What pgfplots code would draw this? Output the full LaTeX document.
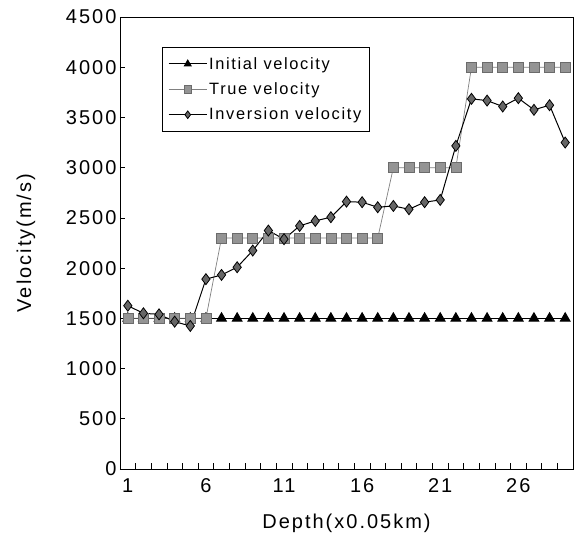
\documentclass[border=0pt]{standalone}
\usepackage{fontspec}
\setmainfont{Liberation Sans}
\newfontfamily\lsfont[LetterSpace=10]{Liberation Sans}
\usepackage{pgfplots}
\pgfplotsset{compat=1.18}
\newcommand\tickfont{\lsfont\fontsize{20}{24}\selectfont}
\newcommand\legfont{\lsfont\fontsize{16.4}{19}\selectfont}
\pgfplotsset{
  mylegend/.style={legend image code/.code={\draw[mark repeat=2,mark phase=2,##1,mark size=3.8pt] plot coordinates {(0pt,0pt) (19pt,0pt) (38pt,0pt)};}}
}
\begin{document}
\begin{tikzpicture}
\begin{axis}[
  scale only axis, width=453pt, height=452pt,
  xmin=0.5, xmax=29.5, ymin=0, ymax=4500,
  xtick={1,6,11,16,21,26},
  xticklabels={1,6,11,16,21,26},
  minor xtick={1.5,2.5,...,28.5},
  ytick={0,500,...,4500},
  tick align=inside,
  xtick pos=lower, ytick pos=left,
  major x tick style={draw=none},
  minor tick length=6pt, major tick length=5pt,
  tick style={black, line width=0.6pt},
  /pgf/number format/1000 sep={},
  /pgf/number format/assume math mode=true,
  ticklabel style={font=\tickfont},
  xticklabel style={yshift=-6pt},
  axis line style={line width=0.8pt},
  xlabel={Depth(x0.05km)},
  ylabel={Velocity(m/s)},
  label style={font=\tickfont},
  xlabel style={at={([yshift=-54pt]rel axis cs:0.5,0)}, anchor=center},
  ylabel style={at={([xshift=-94pt]rel axis cs:0,0.5)}, anchor=center},
  mylegend,
  legend style={at={(rel axis cs:0.0927,0.9336)}, anchor=north west,
    font=\legfont, draw=black, line width=0.5pt, inner xsep=6pt, inner ysep=8pt,
    cells={anchor=west}, row sep=8pt,
    nodes={inner xsep=2pt}},
  clip=false,
]
\addplot[black, line width=1pt, mark=triangle*, mark size=5.5pt,
  mark options={fill=black, draw=black}]
  coordinates {(1,1500)(2,1500)(3,1500)(4,1500)(5,1500)(6,1500)(7,1500)(8,1500)(9,1500)(10,1500)
  (11,1500)(12,1500)(13,1500)(14,1500)(15,1500)(16,1500)(17,1500)(18,1500)(19,1500)(20,1500)
  (21,1500)(22,1500)(23,1500)(24,1500)(25,1500)(26,1500)(27,1500)(28,1500)(29,1500)};
\addlegendentry{Initial velocity}
\addplot[black!50, line width=0.7pt, mark=square*, mark size=5pt,
  mark options={fill=black!42, draw=black!58, line width=0.6pt}]
  coordinates {(1,1500)(2,1500)(3,1500)(4,1500)(5,1500)(6,1500)(7,2300)(8,2300)(9,2300)(10,2300)
  (11,2300)(12,2300)(13,2300)(14,2300)(15,2300)(16,2300)(17,2300)(18,3000)(19,3000)(20,3000)
  (21,3000)(22,3000)(23,4000)(24,4000)(25,4000)(26,4000)(27,4000)(28,4000)(29,4000)};
\addlegendentry{True velocity}
\addplot[black, line width=1pt, mark=diamond*, mark size=5.5pt,
  mark options={fill=black!60, draw=black, line width=0.8pt}]
  coordinates {(1,1626)(2,1550)(3,1540)(4,1467)(5,1424)(6,1890)(7,1932)(8,2009)(9,2175)(10,2374)
  (11,2288)(12,2420)(13,2470)(14,2507)(15,2662)(16,2656)(17,2606)(18,2619)(19,2586)(20,2656)
  (21,2679)(22,3217)(23,3685)(24,3668)(25,3609)(26,3692)(27,3576)(28,3622)(29,3250)};
\addlegendentry{Inversion velocity}
\end{axis}
\pgfresetboundingbox
\path ([shift={(-120pt,-67pt)}]current axis.south west) rectangle ([shift={(9pt,17pt)}]current axis.north east);
\end{tikzpicture}
\end{document}
